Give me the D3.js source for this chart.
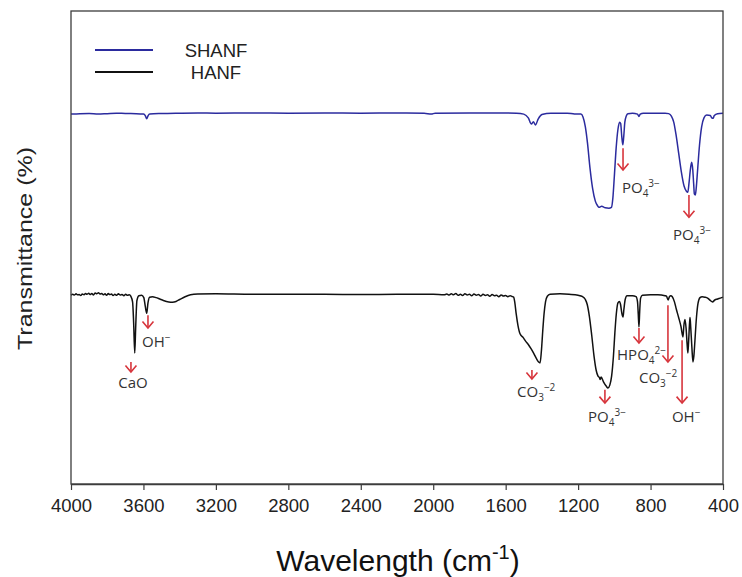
<!DOCTYPE html>
<html><head><meta charset="utf-8">
<script src="https://cdn.jsdelivr.net/npm/d3@7/dist/d3.min.js"></script>
<style>body{margin:0;background:#fff}svg{display:block}</style>
</head><body>
<svg id="c" width="742" height="577"></svg>
<script>
// ---------- data ----------
const xTicks = [4000,3600,3200,2800,2400,2000,1600,1200,800,400];
const seriesNames = ["SHANF","HANF"];
const seriesColors = ["#2b2b9e","#111111"];

const shanfWavenumber = [4000,3950,3900,3850,3800,3750,3700,3640,3600,3590,3582,3574,3565,3500,3400,3300,3200,3000,2800,2600,2400,2200,2050,2010,1990,1800,1600,1540,1500,1475,1458,1447,1436,1420,1400,1350,1260,1220,1185,1173,1160,1148,1135,1120,1105,1092,1085,1070,1050,1030,1016,1008,1000,990,980,971,965,959,953,948,942,934,925,900,872,864,857,840,780,720,700,685,672,660,645,630,615,602,594,588,580,573,567,562,558,553,548,540,530,518,505,490,470,462,455,448,430,400];
const shanfT = [78.2,78.3,78.33,78.2,78.3,78.4,78.33,78.3,78.22,77.9,77.2,77.9,78.22,78.33,78.4,78.44,78.4,78.44,78.4,78.44,78.4,78.44,78.4,78.2,78.4,78.44,78.44,78.4,78.2,77.4,76.1,76.6,75.9,77.2,78.1,78.4,78.4,78.22,78.2,77.6,75.5,72.0,67.0,62.5,59.8,58.8,58.5,58.7,58.4,58.3,58.5,60.5,65.0,71.0,75.0,76.5,76.2,73.5,71.7,73.5,76.5,77.8,78.3,78.4,78.2,77.7,78.2,78.4,78.4,78.4,78.3,77.8,76.5,74.0,70.0,66.0,63.0,61.9,61.7,63.5,66.5,68.0,66.5,63.5,61.3,61.1,62.5,66.5,71.5,75.5,77.4,78.0,77.9,77.4,77.3,77.9,78.3,78.4];

const hanfWavenumber = [4000,3990,3982,3972,3965,3955,3946,3938,3928,3920,3912,3902,3895,3885,3876,3866,3858,3848,3840,3830,3822,3812,3804,3794,3786,3776,3768,3758,3748,3738,3728,3718,3708,3698,3688,3678,3670,3660,3654,3648,3643,3636,3625,3610,3598,3590,3582,3575,3566,3550,3530,3510,3490,3460,3440,3420,3400,3370,3340,3300,3200,3000,2800,2600,2400,2200,2000,1940,1925,1912,1900,1888,1875,1862,1850,1838,1825,1812,1800,1788,1775,1762,1750,1738,1725,1712,1700,1688,1675,1662,1650,1638,1625,1612,1600,1588,1575,1565,1556,1550,1542,1532,1520,1504,1490,1475,1460,1445,1430,1418,1410,1403,1395,1388,1380,1370,1355,1300,1250,1200,1175,1160,1150,1138,1125,1112,1100,1090,1082,1078,1073,1060,1045,1035,1025,1015,1005,997,989,980,972,966,958,952,947,940,930,900,880,872,868,864,860,855,845,800,760,720,712,703,696,688,680,668,658,645,632,621,616,610,604,598,594,590,585,582,578,572,566,561,555,547,538,527,515,500,485,470,458,445,430,415,400];
const hanfT = [39.9,40.1,39.95,40.2,40.0,40.05,39.85,40.15,40.0,40.3,40.1,40.35,40.05,40.25,39.95,40.4,40.2,40.45,40.15,40.3,40.0,40.2,39.9,40.25,40.05,40.15,39.85,40.1,39.9,40.2,39.95,40.05,39.8,40.1,39.9,40.0,39.7,38.5,34.0,27.7,33.0,38.8,39.8,39.9,39.4,37.6,36.1,38.3,39.5,39.6,39.4,39.1,38.8,38.5,38.45,38.6,39.0,39.6,40.0,40.15,40.2,40.1,40.1,40.1,40.05,40.1,40.1,40.0,40.15,39.95,40.2,40.0,40.25,39.9,40.1,39.85,40.2,39.95,40.1,39.8,40.15,39.9,40.05,39.75,40.1,39.85,40.0,39.7,40.05,39.8,39.9,39.6,39.95,39.75,39.85,39.6,39.8,39.65,39.5,38.5,36.0,33.5,31.7,31.0,30.2,29.5,28.6,27.6,26.5,25.8,25.6,28.0,32.5,36.0,38.5,39.7,40.1,40.2,40.1,39.9,39.6,39.0,38.0,35.5,31.5,27.0,24.0,22.8,22.5,22.1,22.6,21.6,20.7,20.3,20.9,22.8,27.0,32.0,36.0,38.3,38.6,38.0,36.0,35.3,37.0,39.0,39.8,39.8,39.6,38.5,36.0,33.2,36.5,39.3,39.9,40.0,40.0,39.8,39.7,38.9,39.6,39.8,39.6,38.5,37.0,35.2,33.3,31.1,33.5,34.8,33.0,29.5,27.7,30.0,33.8,35.2,33.0,29.0,25.8,27.0,30.3,35.0,38.2,39.4,39.6,39.5,39.3,38.8,38.5,38.9,39.1,39.3,39.5];

// annotations (data coordinates)
const annoBase  = ["PO","PO","CaO","OH","CO","PO","HPO","CO","OH"];
const annoSub   = ["4","4","","","3","4","4","3",""];
const annoSup   = ["3\u2212","3\u2212","","\u2212","\u22122","3\u2212","2\u2212","\u22122","\u2212"];
const annoArrowW    = [952,588,3669,3575,1455,1052,864,704,626];
const annoArrowFrom = [71.0,61.1,25.8,35.7,24.1,19.9,33.0,37.8,30.4];
const annoArrowTo   = [66.4,56.4,23.7,33.0,22.2,17.1,29.8,25.8,17.1];
const annoLabelW    = [958,676,3658,3608,1537,1145,985,864,682];
const annoLabelT    = [61.5,51.6,20.3,29.0,18.4,13.1,26.2,21.4,13.1];
const annoAnchor    = ["start","start","middle","start","start","start","start","start","start"];

// ---------- drawing ----------
const svg = d3.select("#c");
const L = 71, R = 723, T = 11, B = 484;
const x = d3.scaleLinear().domain([4000,400]).range([L,R]);
const y = d3.scaleLinear().domain([0,100]).range([B,T]);

const series = [
  shanfWavenumber.map((w,i)=>({w, t: shanfT[i]})),
  hanfWavenumber.map((w,i)=>({w, t: hanfT[i]}))
];
const line = d3.line().x(d=>x(d.w)).y(d=>y(d.t)).curve(d3.curveMonotoneX);

series.forEach((s,i)=>{
  svg.append("path").datum(s).attr("d",line)
    .attr("fill","none").attr("stroke",seriesColors[i]).attr("stroke-width",1.5)
    .attr("stroke-linejoin","round");
});

// frame
svg.append("rect").attr("x",L).attr("y",T).attr("width",R-L).attr("height",B-T)
  .attr("fill","none").attr("stroke","#3c3c3c").attr("stroke-width",1.3);

// bottom axis
const ax = svg.append("g").attr("transform",`translate(0,${B})`)
  .call(d3.axisBottom(x).tickValues(xTicks).tickSize(6).tickSizeOuter(0).tickPadding(9).tickFormat(d3.format("d")));
ax.select(".domain").attr("stroke","#3c3c3c").attr("stroke-width",1.3);
ax.selectAll(".tick line").attr("stroke","#3c3c3c").attr("stroke-width",1.2);
ax.selectAll(".tick text").attr("font-family","Liberation Sans, Arial, sans-serif")
  .attr("font-size",18.5).attr("fill","#222");

// axis titles
const xt = svg.append("text").attr("x",(L+R)/2+1).attr("y",571).attr("text-anchor","middle")
  .attr("font-family","Liberation Sans, Arial, sans-serif").attr("font-size",30).attr("fill","#111");
xt.append("tspan").text("Wavelength (cm");
xt.append("tspan").text("-1").attr("font-size",20).attr("dy",-12);
xt.append("tspan").text(")").attr("dy",12);

svg.append("text").attr("transform","translate(32,248.5) rotate(-90)")
  .attr("text-anchor","middle").attr("font-family","Liberation Sans, Arial, sans-serif")
  .attr("font-size",21).attr("fill","#222")
  .attr("textLength",203).attr("lengthAdjust","spacingAndGlyphs")
  .text("Transmittance (%)");

// legend
const legY = [50,72];
seriesNames.forEach((n,i)=>{
  svg.append("line").attr("x1",95).attr("x2",153).attr("y1",legY[i]).attr("y2",legY[i])
    .attr("stroke",seriesColors[i]).attr("stroke-width",1.8);
  svg.append("text").attr("x",216).attr("y",legY[i]+6.5).attr("text-anchor","middle")
    .attr("font-family","Liberation Sans, Arial, sans-serif").attr("font-size",18.5).attr("fill","#222").text(n);
});

// annotations
const red = "#d7353c";
annoBase.forEach((b,i)=>{
  const ax_ = x(annoArrowW[i]), y1 = y(annoArrowFrom[i]), y2 = y(annoArrowTo[i]);
  svg.append("line").attr("x1",ax_).attr("x2",ax_).attr("y1",y1).attr("y2",y2)
    .attr("stroke",red).attr("stroke-width",1.6);
  svg.append("path").attr("d",`M${ax_-5.5},${y2-6.5}L${ax_},${y2}L${ax_+5.5},${y2-6.5}`)
    .attr("fill","none").attr("stroke",red).attr("stroke-width",1.6);
  const t = svg.append("text").attr("x",x(annoLabelW[i])).attr("y",y(annoLabelT[i]))
    .attr("text-anchor",annoAnchor[i]).attr("font-family","Open Sans, sans-serif")
    .attr("font-size",15).attr("fill","#333");
  t.append("tspan").text(b);
  let dyBack = 0;
  if (annoSub[i]) { t.append("tspan").text(annoSub[i]).attr("font-size",10).attr("dy",4); dyBack = 4; }
  if (annoSup[i]) { t.append("tspan").text(annoSup[i]).attr("font-size",10).attr("dy",-(dyBack+6)); }
});
</script>
</body></html>
